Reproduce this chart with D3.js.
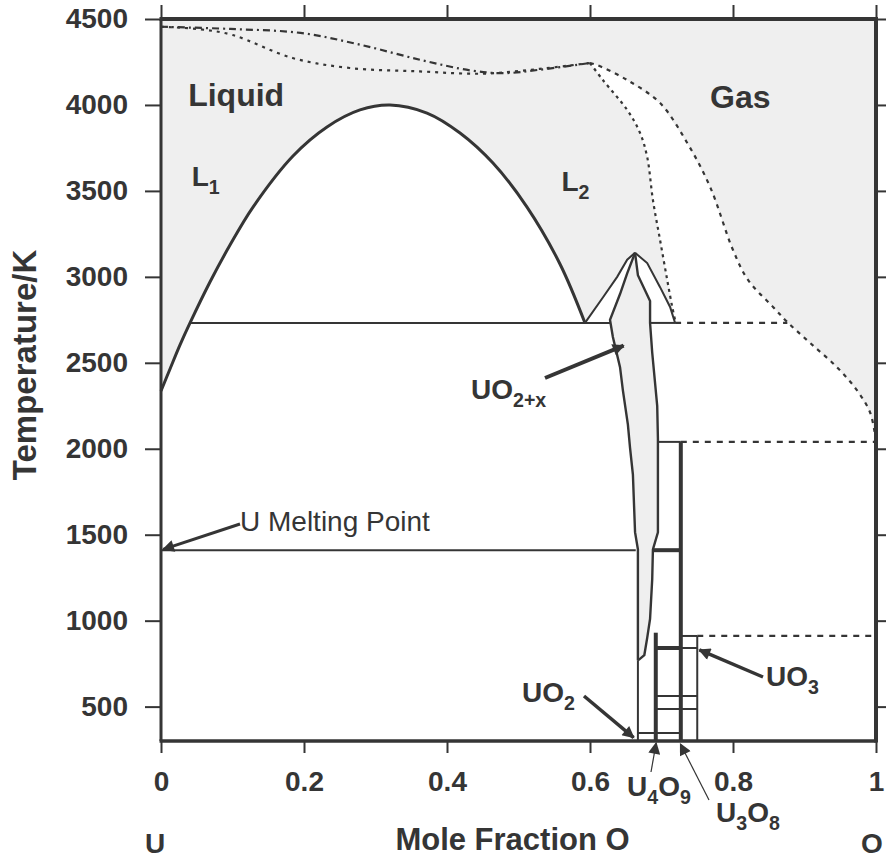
<!DOCTYPE html>
<html>
<head>
<meta charset="utf-8">
<script src="https://cdn.jsdelivr.net/npm/d3@7"></script>
<style>
body { margin: 0; background: #fff; }
text { font-family: "Liberation Sans", Arial, sans-serif; fill: #353535; }
</style>
</head>
<body>
<div id="chart"></div>
<script>
// axis ticks
var tempTicks = [500, 1000, 1500, 2000, 2500, 3000, 3500, 4000, 4500];
var fracTicks = [0, 0.2, 0.4, 0.6, 0.8, 1];
var fracTickLabels = ["0", "0.2", "0.4", "0.6", "0.8", "1"];

// liquid miscibility gap (L1 + L2) and U-rich liquidus, [mole fraction O, K]
var uLiquidus = [[0, 2336], [0.0126, 2464], [0.0266, 2604]];
var domeCurve = [[0.0406, 2732], [0.0685, 2970], [0.0965, 3185], [0.1287, 3406], [0.1846, 3703], [0.2322, 3872],
                 [0.2783, 3971], [0.3203, 4000], [0.372, 3953], [0.4182, 3837], [0.4643, 3662], [0.5119, 3406],
                 [0.558, 3075], [0.593, 2732]];

// UO2 congruent melting: liquidus either side of the peak
var liquidusLeft = [[0.593, 2732], [0.618, 2880], [0.638, 3000], [0.652, 3100], [0.663, 3140]];
var liquidusRight = [[0.663, 3140], [0.680, 3080], [0.698, 2940], [0.712, 2825], [0.719, 2732]];

// UO2+x single phase field
var lensLeft = [[0.663, 3140], [0.652, 3020], [0.642, 2900], [0.628, 2750], [0.632, 2650], [0.642, 2475],
                [0.646, 2340], [0.653, 2140], [0.656, 2005], [0.660, 1850], [0.663, 1515], [0.667, 1415],
                [0.667, 1010], [0.667, 770]];
var lensRight = [[0.663, 3140], [0.667, 3010], [0.684, 2860], [0.684, 2732], [0.687, 2560], [0.694, 2250],
                 [0.695, 2060], [0.695, 1514], [0.688, 1415], [0.687, 1240], [0.684, 1010], [0.680, 900],
                 [0.676, 800], [0.669, 775], [0.667, 770]];

// liquid + gas boundaries
var bubbleLine = [[0.600, 4244], [0.618, 4145], [0.652, 3971], [0.670, 3837], [0.680, 3697], [0.688, 3447],
                  [0.698, 3214], [0.708, 2982], [0.715, 2825], [0.719, 2749]];
var dewLine = [[0.600, 4244], [0.610, 4232], [0.652, 4145], [0.698, 4011], [0.736, 3779], [0.768, 3523],
               [0.800, 3156], [0.821, 2982], [0.856, 2825], [0.876, 2737], [0.908, 2615], [0.945, 2476],
               [0.973, 2342], [0.992, 2208], [1.0, 2039]];
var topUpper = [[0, 4455], [0.097, 4442], [0.195, 4419], [0.28, 4349], [0.364, 4261], [0.434, 4200],
                [0.48, 4185], [0.53, 4205], [0.6, 4244]];
var topLower = [[0, 4455], [0.055, 4440], [0.1, 4407], [0.184, 4273], [0.264, 4215], [0.362, 4195],
                [0.45, 4182], [0.53, 4210], [0.6, 4244]];

// isotherms [K, from, to]
var thinIsotherms = [[2732, 0.0406, 0.628], [2732, 0.684, 0.719], [1410, 0, 0.664], [2040, 0.695, 0.727],
                     [911, 0.727, 0.75], [841, 0.727, 0.75], [562, 0.692, 0.75], [486, 0.692, 0.75], [347, 0.667, 0.727]];
var thickIsotherms = [[1410, 0.689, 0.727], [841, 0.692, 0.727]];
var dashedIsotherms = [[2732, 0.719, 0.876], [2040, 0.727, 1], [911, 0.75, 1]];

// compounds [mole fraction O, from K, to K]
var thinVerticals = [[0.667, 300, 770], [0.75, 300, 911]];
var thickVerticals = [[0.692, 300, 930], [0.727, 300, 2040]];

function init(){

    var w = 886;
    var h = 860;
    var ink = "#353535";
    var shade = "#efefef";

    var svg = d3.select("#chart")
                .append("svg")
                .attr("width", w)
                .attr("height", h);

    var x = d3.scaleLinear().domain([0, 1]).range([161, 876]);
    var y = d3.scaleLinear().domain([300, 4500]).range([741, 19]);

    var line = d3.line()
                 .x(function(d) { return x(d[0]); })
                 .y(function(d) { return y(d[1]); });
    var smooth = d3.line()
                   .x(function(d) { return x(d[0]); })
                   .y(function(d) { return y(d[1]); })
                   .curve(d3.curveCatmullRom);

    var l1Boundary = uLiquidus.concat(domeCurve);

    // shaded single phase regions (liquid, gas)
    var region = [[0, 2336], [0, 4500], [1, 4500]]
        .concat(dewLine.slice().reverse())
        .concat(bubbleLine)
        .concat(liquidusRight.slice().reverse())
        .concat(liquidusLeft.slice().reverse())
        .concat(l1Boundary.slice().reverse());
    svg.append("path")
       .attr("d", line(region) + "Z")
       .attr("fill", shade);

    svg.append("path")
       .attr("d", line(lensLeft.concat(lensRight.slice().reverse())) + "Z")
       .attr("fill", shade);

    // phase boundaries
    svg.append("path")
       .attr("d", smooth(l1Boundary))
       .attr("fill", "none")
       .attr("stroke", ink)
       .attr("stroke-width", 3);

    [liquidusLeft, liquidusRight].forEach(function(c) {
        svg.append("path")
           .attr("d", line(c))
           .attr("fill", "none")
           .attr("stroke", ink)
           .attr("stroke-width", 2);
    });

    [lensLeft, lensRight].forEach(function(c) {
        svg.append("path")
           .attr("d", line(c))
           .attr("fill", "none")
           .attr("stroke", ink)
           .attr("stroke-width", 2.4);
    });

    svg.append("path")
       .attr("d", smooth(bubbleLine))
       .attr("fill", "none")
       .attr("stroke", ink)
       .attr("stroke-width", 2.2)
       .attr("stroke-dasharray", "3,4");

    svg.append("path")
       .attr("d", smooth(dewLine))
       .attr("fill", "none")
       .attr("stroke", ink)
       .attr("stroke-width", 2.2)
       .attr("stroke-dasharray", "4,5");

    svg.append("path")
       .attr("d", smooth(topUpper))
       .attr("fill", "none")
       .attr("stroke", ink)
       .attr("stroke-width", 2.2)
       .attr("stroke-dasharray", "7,4,2,4");

    svg.append("path")
       .attr("d", smooth(topLower))
       .attr("fill", "none")
       .attr("stroke", ink)
       .attr("stroke-width", 2.2)
       .attr("stroke-dasharray", "3,5");

    svg.selectAll(".thinIso")
       .data(thinIsotherms)
       .enter()
       .append("line")
       .attr("x1", function(d) { return x(d[1]); })
       .attr("x2", function(d) { return x(d[2]); })
       .attr("y1", function(d) { return y(d[0]); })
       .attr("y2", function(d) { return y(d[0]); })
       .attr("stroke", ink)
       .attr("stroke-width", 2);

    svg.selectAll(".thickIso")
       .data(thickIsotherms)
       .enter()
       .append("line")
       .attr("x1", function(d) { return x(d[1]); })
       .attr("x2", function(d) { return x(d[2]); })
       .attr("y1", function(d) { return y(d[0]); })
       .attr("y2", function(d) { return y(d[0]); })
       .attr("stroke", ink)
       .attr("stroke-width", 4);

    svg.selectAll(".dashIso")
       .data(dashedIsotherms)
       .enter()
       .append("line")
       .attr("x1", function(d) { return x(d[1]); })
       .attr("x2", function(d) { return x(d[2]); })
       .attr("y1", function(d) { return y(d[0]); })
       .attr("y2", function(d) { return y(d[0]); })
       .attr("stroke", ink)
       .attr("stroke-width", 2.2)
       .attr("stroke-dasharray", "6,6");

    svg.selectAll(".thinVert")
       .data(thinVerticals)
       .enter()
       .append("line")
       .attr("x1", function(d) { return x(d[0]); })
       .attr("x2", function(d) { return x(d[0]); })
       .attr("y1", function(d) { return y(d[1]); })
       .attr("y2", function(d) { return y(d[2]); })
       .attr("stroke", ink)
       .attr("stroke-width", 2);

    svg.selectAll(".thickVert")
       .data(thickVerticals)
       .enter()
       .append("line")
       .attr("x1", function(d) { return x(d[0]); })
       .attr("x2", function(d) { return x(d[0]); })
       .attr("y1", function(d) { return y(d[1]); })
       .attr("y2", function(d) { return y(d[2]); })
       .attr("stroke", ink)
       .attr("stroke-width", 4);

    // axes
    var left = svg.append("g")
                  .attr("transform", "translate(161,0)")
                  .call(d3.axisLeft(y).tickValues(tempTicks).tickSize(16).tickPadding(17)
                        .tickFormat(d3.format("d")));
    var bottom = svg.append("g")
                    .attr("transform", "translate(0,741)")
                    .call(d3.axisBottom(x).tickValues(fracTicks).tickSize(12).tickPadding(18)
                          .tickFormat(function(d, i) { return fracTickLabels[i]; }));
    var top = svg.append("g")
                 .attr("transform", "translate(0,19)")
                 .call(d3.axisTop(x).tickValues(fracTicks).tickSize(14).tickFormat(""));
    var right = svg.append("g")
                   .attr("transform", "translate(876,0)")
                   .call(d3.axisRight(y).tickValues(tempTicks).tickSize(10).tickFormat(""));

    [left, bottom, top, right].forEach(function(g) {
        g.select(".domain").remove();
        g.selectAll(".tick line").attr("stroke", ink).attr("stroke-width", 2);
        g.selectAll(".tick text")
         .attr("fill", ink)
         .style("font-size", "28px")
         .style("font-weight", "bold")
         .style("font-family", "'Liberation Sans', Arial, sans-serif");
    });

    svg.append("line").attr("x1", 161).attr("x2", 161).attr("y1", 19).attr("y2", 741)
       .attr("stroke", ink).attr("stroke-width", 3);
    svg.append("line").attr("x1", 159.5).attr("x2", 876).attr("y1", 741).attr("y2", 741)
       .attr("stroke", ink).attr("stroke-width", 3.5);
    svg.append("line").attr("x1", 159.5).attr("x2", 878).attr("y1", 19).attr("y2", 19)
       .attr("stroke", ink).attr("stroke-width", 4);
    svg.append("line").attr("x1", 876).attr("x2", 876).attr("y1", 19).attr("y2", 742.5)
       .attr("stroke", ink).attr("stroke-width", 4);

    svg.append("text")
       .attr("transform", "translate(36,365) rotate(-90)")
       .attr("text-anchor", "middle")
       .style("font-size", "33px")
       .style("font-weight", "bold")
       .text("Temperature/K");

    svg.append("text")
       .attr("x", x(0.5) - 6)
       .attr("y", 850)
       .attr("text-anchor", "middle")
       .style("font-size", "31px")
       .style("font-weight", "bold")
       .text("Mole Fraction O");

    svg.append("text").attr("x", x(0) - 6).attr("y", 853).attr("text-anchor", "middle")
       .style("font-size", "28px").style("font-weight", "bold").text("U");
    svg.append("text").attr("x", 872).attr("y", 853).attr("text-anchor", "middle")
       .style("font-size", "28px").style("font-weight", "bold").text("O");

    // region labels
    svg.append("text").attr("x", x(0.038)).attr("y", y(4000) + 1)
       .style("font-size", "32px").style("font-weight", "bold").text("Liquid");
    svg.append("text").attr("x", x(0.768)).attr("y", y(3982))
       .style("font-size", "32px").style("font-weight", "bold").text("Gas");

    function subLabel(px, py, main, sub, rest, size) {
        var t = svg.append("text")
                   .attr("x", px)
                   .attr("y", py)
                   .style("font-size", size + "px")
                   .style("font-weight", "bold");
        t.append("tspan").text(main);
        t.append("tspan").attr("dy", size * 0.3).style("font-size", (size * 0.7) + "px").text(sub);
        if (rest) {
            t.append("tspan").attr("dy", -size * 0.3).text(rest[0]);
            t.append("tspan").attr("dy", size * 0.3).style("font-size", (size * 0.7) + "px").text(rest[1]);
        }
        return t;
    }

    subLabel(x(0.043), y(3530), "L", "1", null, 28);
    subLabel(x(0.56), y(3500), "L", "2", null, 28);
    subLabel(471, 399, "UO", "2+x", null, 28);
    subLabel(522, 702, "UO", "2", null, 28);
    subLabel(766, 686, "UO", "3", null, 28);
    subLabel(627, 796, "U", "4", ["O", "9"], 28);
    subLabel(716, 822, "U", "3", ["O", "8"], 28);

    svg.append("text")
       .attr("x", 240)
       .attr("y", 531)
       .style("font-size", "28px")
       .text("U Melting Point");

    // arrows
    svg.append("defs")
       .append("marker")
       .attr("id", "head")
       .attr("viewBox", "0 0 10 10")
       .attr("refX", 9)
       .attr("refY", 5)
       .attr("markerUnits", "userSpaceOnUse")
       .attr("markerWidth", 15)
       .attr("markerHeight", 12)
       .attr("orient", "auto")
       .append("path")
       .attr("d", "M0,0L10,5L0,10Z")
       .attr("fill", ink);

    var arrows = [
        [[240, 524], [x(0.003), y(1415)], 3],
        [[545, 378], [x(0.647), y(2600)], 4],
        [[584, 696], [x(0.661), y(320)], 3.5],
        [[763, 677], [x(0.753), y(830)], 3.5],
        [[651, 772], [x(0.6925), y(300) + 2], 1.2],
        [[709, 800], [x(0.7265), y(300) + 3], 1.2]
    ];
    arrows.forEach(function(a) {
        svg.append("line")
           .attr("x1", a[0][0])
           .attr("y1", a[0][1])
           .attr("x2", a[1][0])
           .attr("y2", a[1][1])
           .attr("stroke", ink)
           .attr("stroke-width", a[2])
           .attr("marker-end", "url(#head)");
    });

}

window.onload = init;
</script>
</body>
</html>
